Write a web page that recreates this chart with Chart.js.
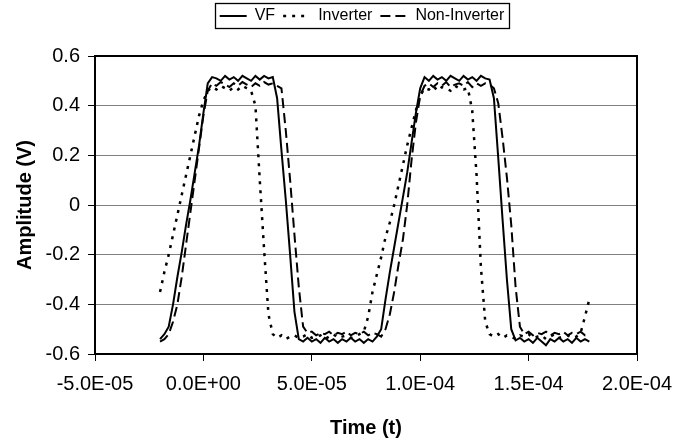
<!DOCTYPE html>
<html>
<head>
<meta charset="utf-8">
<script src="https://cdn.jsdelivr.net/npm/chart.js@4.4.1/dist/chart.umd.min.js"></script>
<style>
  html, body { margin: 0; padding: 0; background: #fff; }
  #wrap { width: 673px; height: 443px; }
</style>
</head>
<body>
<div id="wrap"><canvas id="chart"></canvas></div>
<script>
// time in microseconds (axis labels are shown in seconds)
const timeUs = [
  -20, -18, -16, -14, -12, -10, -8, -6, -4, -2,
  0, 2, 4, 6, 8, 10, 12, 14, 16, 18,
  20, 22, 24, 26, 28, 30, 32, 34, 36, 38,
  40, 42, 44, 46, 48, 50, 52, 54, 56, 58,
  60, 62, 64, 66, 68, 70, 72, 74, 76, 78,
  80, 82, 84, 86, 88, 90, 92, 94, 96, 98,
  100, 102, 104, 106, 108, 110, 112, 114, 116, 118,
  120, 122, 124, 126, 128, 130, 132, 134, 136, 138,
  140, 142, 144, 146, 148, 150, 152, 154, 156, 158,
  160, 162, 164, 166, 168, 170, 172, 174, 176, 178
];

const vf = [
  -0.54, -0.52, -0.49, -0.40, -0.29, -0.19, -0.08, 0.02, 0.13, 0.24,
  0.37, 0.49, 0.515, 0.51, 0.50, 0.52, 0.505, 0.515, 0.50, 0.52,
  0.51, 0.50, 0.52, 0.505, 0.52, 0.51, 0.515, 0.43, 0.22, 0.02,
  -0.20, -0.43, -0.54, -0.55, -0.535, -0.55, -0.54, -0.555, -0.535, -0.55,
  -0.54, -0.555, -0.54, -0.55, -0.535, -0.55, -0.54, -0.555, -0.54, -0.55,
  -0.53, -0.50, -0.38, -0.27, -0.17, -0.07, 0.03, 0.13, 0.25, 0.37,
  0.47, 0.515, 0.50, 0.52, 0.505, 0.515, 0.50, 0.52, 0.51, 0.50,
  0.52, 0.505, 0.515, 0.50, 0.52, 0.51, 0.505, 0.43, 0.19, -0.06,
  -0.30, -0.50, -0.545, -0.535, -0.55, -0.54, -0.555, -0.535, -0.55, -0.565,
  -0.54, -0.55, -0.535, -0.55, -0.54, -0.555, -0.535, -0.55, -0.54, -0.55
];

const inverter = [
  -0.35, -0.27, -0.20, -0.12, -0.04, 0.04, 0.12, 0.20, 0.28, 0.36,
  0.42, 0.46, 0.475, 0.465, 0.48, 0.47, 0.46, 0.475, 0.465, 0.48,
  0.47, 0.46, 0.40, 0.10, -0.18, -0.44, -0.52, -0.535, -0.525, -0.54,
  -0.53, -0.525, -0.535, -0.53, -0.52, -0.535, -0.53, -0.525, -0.54, -0.53,
  -0.52, -0.535, -0.53, -0.525, -0.535, -0.53, -0.52, -0.51, -0.45, -0.35,
  -0.28, -0.21, -0.13, -0.07, 0.00, 0.08, 0.16, 0.24, 0.31, 0.38,
  0.44, 0.47, 0.465, 0.48, 0.46, 0.475, 0.47, 0.46, 0.48, 0.47,
  0.465, 0.47, 0.38, 0.12, -0.25, -0.47, -0.52, -0.53, -0.52, -0.535,
  -0.525, -0.53, -0.54, -0.525, -0.53, -0.52, -0.535, -0.53, -0.525, -0.54,
  -0.53, -0.52, -0.535, -0.53, -0.525, -0.535, -0.53, -0.515, -0.45, -0.38
];

const nonInverter = [
  -0.55, -0.54, -0.52, -0.47, -0.40, -0.29, -0.16, -0.03, 0.10, 0.23,
  0.36, 0.46, 0.49, 0.48, 0.495, 0.485, 0.475, 0.49, 0.48, 0.495,
  0.485, 0.475, 0.49, 0.48, 0.495, 0.485, 0.49, 0.48, 0.47, 0.30,
  0.10, -0.12, -0.33, -0.49, -0.515, -0.51, -0.525, -0.515, -0.52, -0.51,
  -0.525, -0.515, -0.52, -0.51, -0.525, -0.515, -0.52, -0.51, -0.525, -0.515,
  -0.52, -0.53, -0.50, -0.44, -0.35, -0.24, -0.14, 0.00, 0.18, 0.33,
  0.44, 0.48, 0.49, 0.475, 0.49, 0.48, 0.495, 0.475, 0.485, 0.49,
  0.48, 0.495, 0.475, 0.49, 0.48, 0.49, 0.485, 0.47, 0.41, 0.27,
  0.11, -0.08, -0.33, -0.49, -0.52, -0.51, -0.525, -0.515, -0.52, -0.51,
  -0.525, -0.515, -0.52, -0.51, -0.525, -0.515, -0.52, -0.51, -0.525, -0.515
];

const xTicks = [-50, 0, 50, 100, 150, 200];
const xTickLabels = ['-5.0E-05', '0.0E+00', '5.0E-05', '1.0E-04', '1.5E-04', '2.0E-04'];
const yTicks = [-0.6, -0.4, -0.2, 0, 0.2, 0.4, 0.6];
const yTickLabels = ['-0.6', '-0.4', '-0.2', '0', '0.2', '0.4', '0.6'];

const FONT = "'Liberation Sans', Arial, sans-serif";
const TOP_PAD = 22;

const toPoints = ys => timeUs.map((t, i) => ({ x: t, y: ys[i] }));

// move the legend over the plot area and up into the top margin
const legendPlace = {
    id: 'legendPlace',
    afterLayout(chart) {
        const l = chart.legend;
        const a = chart.chartArea;
        const dx = (a.left + a.right) / 2 - (l.left + l.right) / 2 - 4;
        l.left += dx; l.right += dx;
        l.top -= TOP_PAD; l.bottom -= TOP_PAD;
    }
};

// plot frame + legend frame
const frames = {
    id: 'frames',
    afterDraw(chart) {
        const { ctx, chartArea: a, legend } = chart;
        ctx.save();
        ctx.strokeStyle = '#000';
        ctx.lineWidth = 2;
        ctx.strokeRect(a.left, a.top, a.right - a.left, a.bottom - a.top);
        const boxes = legend.legendHitBoxes || [];
        if (boxes.length) {
            const x0 = Math.min(...boxes.map(b => b.left)) - 5;
            const x1 = Math.max(...boxes.map(b => b.left + b.width)) + 4;
            const y0 = Math.min(...boxes.map(b => b.top)) - 5;
            const y1 = Math.max(...boxes.map(b => b.top + b.height)) + 4;
            ctx.lineWidth = 1.3;
            ctx.strokeRect(Math.round(x0) + 0.5, Math.round(y0) + 0.5, Math.round(x1 - x0), Math.round(y1 - y0));
        }
        ctx.restore();
    }
};

new Chart(document.getElementById('chart'), {
    type: 'line',
    data: {
        datasets: [
            {
                label: 'VF',
                data: toPoints(vf),
                borderColor: '#000',
                borderWidth: 2,
            },
            {
                label: 'Inverter',
                data: toPoints(inverter),
                borderColor: '#000',
                borderWidth: 2.5,
                borderDash: [3, 6],
            },
            {
                label: 'Non-Inverter',
                data: toPoints(nonInverter),
                borderColor: '#000',
                borderWidth: 2,
                borderDash: [10, 5],
            }
        ]
    },
    options: {
        responsive: true,
        maintainAspectRatio: false,
        animation: false,
        elements: {
            point: { radius: 0, hoverRadius: 0 },
            line: { tension: 0, fill: false }
        },
        layout: { padding: { top: TOP_PAD, left: 8, right: 36, bottom: 3 } },
        plugins: {
            tooltip: { enabled: false },
            legend: {
                position: 'top',
                labels: {
                    color: '#000',
                    font: { family: FONT, size: 16 },
                    usePointStyle: true,
                    pointStyle: 'line',
                    pointStyleWidth: 27,
                    padding: 8,
                    generateLabels: chart => {
                        const items = Chart.defaults.plugins.legend.labels.generateLabels(chart);
                        items.forEach((it, i) => {
                            const ds = chart.data.datasets[i];
                            it.lineDash = ds.borderDash || [];
                            it.lineWidth = ds.borderWidth;
                            it.strokeStyle = '#000';
                            it.lineCap = 'butt';
                        });
                        return items;
                    }
                }
            }
        },
        scales: {
            x: {
                type: 'linear',
                min: -50,
                max: 200,
                afterBuildTicks: s => { s.ticks = xTicks.map(v => ({ value: v })); },
                afterFit: s => { s.paddingLeft = 0; s.paddingRight = 0; },
                ticks: {
                    color: '#000',
                    font: { family: FONT, size: 20 },
                    padding: 11,
                    maxRotation: 0,
                    callback: (v, i) => xTickLabels[i]
                },
                grid: { drawOnChartArea: false, drawTicks: true, tickLength: 7, tickColor: '#000', lineWidth: 1 },
                border: { display: false },
                title: {
                    display: true,
                    text: 'Time (t)',
                    color: '#000',
                    font: { family: FONT, size: 20, weight: 'bold' },
                    padding: { top: 9, bottom: 0 }
                }
            },
            y: {
                min: -0.6,
                max: 0.6,
                afterBuildTicks: s => { s.ticks = yTicks.map(v => ({ value: v })); },
                afterFit: s => { s.width = 87; },
                ticks: {
                    color: '#000',
                    font: { family: FONT, size: 20 },
                    padding: 8,
                    callback: (v, i) => yTickLabels[i]
                },
                grid: { color: '#808080', lineWidth: 1, drawTicks: true, tickLength: 7, tickColor: '#000' },
                border: { display: false },
                title: {
                    display: true,
                    text: 'Amplitude (V)',
                    color: '#000',
                    font: { family: FONT, size: 20, weight: 'bold' },
                    padding: { top: 5, bottom: 9 }
                }
            }
        }
    },
    plugins: [legendPlace, frames]
});
</script>
</body>
</html>
